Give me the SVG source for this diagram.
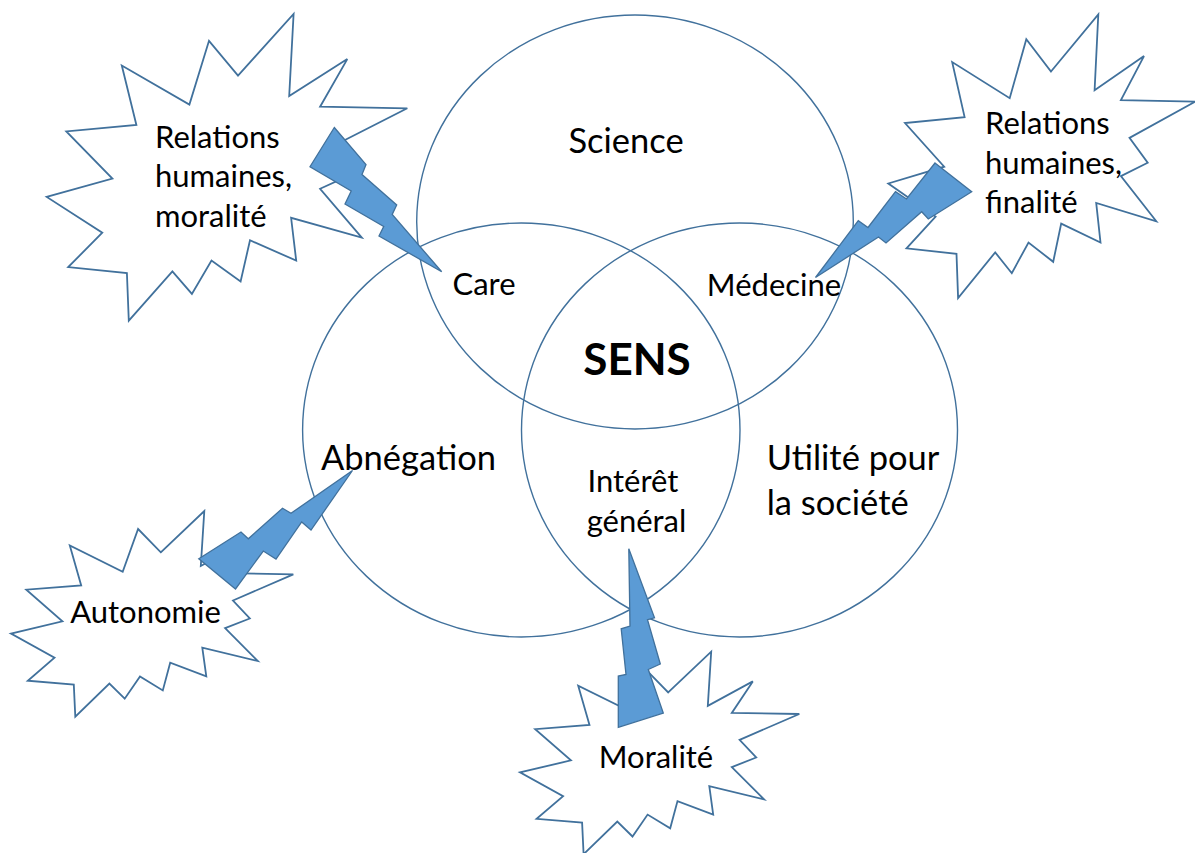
<svg xmlns="http://www.w3.org/2000/svg" width="1195" height="853" viewBox="0 0 1195 853">
<style>
.circ{fill:none;stroke:#41719C;stroke-width:1.4}
.burst{fill:#fff;stroke:#41719C;stroke-width:1.8;stroke-linejoin:miter}
.bolt{fill:#5B9BD5;stroke:#41719C;stroke-width:1.3;stroke-linejoin:miter}
text{font-family:Lato,"Open Sans","Liberation Sans",sans-serif;fill:#000}
.t32{font-size:31px}
.t37{font-size:34.5px}
.bold{font-size:44px;font-weight:bold}
</style>
<rect width="1195" height="853" fill="#fff"/>
<g id="circle-science"><ellipse class="circ" cx="635" cy="222" rx="218.3" ry="207"/></g>
<g id="circle-abnegation"><ellipse class="circ" cx="521.3" cy="430" rx="218.7" ry="207"/></g>
<g id="circle-utilite"><ellipse class="circ" cx="739.5" cy="430" rx="218" ry="207"/></g>
<g id="burst-relations-moralite"><polygon class="burst" points="238,75.6 293.6,14 289.2,96 347.3,59.1 320.1,106.7 407.3,108.3 330.2,147.5 351.7,174.3 320.1,188.8 361.8,237.7 291.1,217.8 296.2,260.6 250,240.3 240.6,281.5 211.5,260.6 191.9,293.9 172.4,271.4 128.8,320.7 126.9,273 68.2,267.1 102.3,232.7 46.7,196.9 112.4,178.6 66.3,131.4 136.4,125 121.8,65.5 189.4,104.6 209,40.8"/></g>
<g id="burst-relations-finalite"><polygon class="burst" points="1051,71.5 1098.3,14.5 1094.6,90.3 1144,56.1 1120.9,100.2 1195,101.7 1129.5,137.9 1147.7,162.7 1120.9,176.1 1156.3,221.3 1096.2,202.9 1100.5,242.5 1061.2,223.6 1053.2,261.8 1028.5,242.5 1011.8,273.2 995.2,252.4 958.1,298 956.5,253.9 906.5,248.4 935.6,216.6 888.3,183.5 944.2,166.7 905,123 964.6,117.1 952.2,62.1 1009.7,98.2 1026.3,39.3"/></g>
<g id="burst-autonomie"><polygon class="burst" points="160.8,552.3 204.3,511 200.8,566 246.3,541.2 225.1,573.2 293.3,574.3 233,600.5 249.8,618.5 225.1,628.2 257.7,661 202.3,647.7 206.3,676.4 170.2,662.7 162.8,690.4 140,676.4 124.7,698.7 109.4,683.6 75.3,716.7 73.8,684.7 27.8,680.7 54.5,657.7 11,633.6 62.4,621.4 26.3,589.7 81.2,585.4 69.8,545.5 122.7,571.7 138.1,529"/></g>
<g id="burst-moralite"><polygon class="burst" points="668.2,692.4 711.2,651.7 707.8,705.9 752.8,681.4 731.8,712.9 799.3,714 739.6,739.8 756.2,757.5 731.8,767.1 764.1,799.4 709.3,786.2 713.2,814.6 677.5,801.1 670.2,828.3 647.6,814.6 632.5,836.5 617.3,821.6 583.6,854.2 582.1,822.7 536.6,818.8 563.1,796.1 520,772.4 570.9,760.4 535.2,729.2 589.5,725 578.2,685.7 630.5,711.5 645.7,669.4"/></g>
<g id="connectors">
<polygon class="bolt" points="334.3,127.5 366,164.5 362,174.5 396.7,205 392.2,214.5 441.7,271.7 379,236 383.7,226.5 345,204 351.2,191 310,166.7"/>
<polygon class="bolt" points="935,163 971.7,191.7 928.3,219 921.7,211.7 886,243 878.5,237 815.5,277.5 858.3,220.7 868,227.5 895.5,191.7 906.5,199"/>
<polygon class="bolt" points="352.5,470.5 311,530 301.7,522 276,559 263.3,551 235.5,589 198.8,558.8 241,532 248.3,538.8 282.5,508.3 291,513.3"/>
<polygon class="bolt" points="628.8,548.8 654.5,617.8 647.5,619.7 660.3,664 648.3,669.5 663.3,713 618.3,727.3 618.3,676 626,674.5 621.2,628.8 630,626"/>
</g>
<g id="labels">
<text class="t37" x="626" y="153" text-anchor="middle">Science</text>
<text class="t32" x="484" y="295" text-anchor="middle">Care</text>
<text class="t32" x="774" y="296" text-anchor="middle">Médecine</text>
<text class="bold" x="637" y="375" text-anchor="middle">SENS</text>
<text class="t37" x="408.5" y="470" text-anchor="middle">Abnégation</text>
<text class="t32" x="633" y="491.7" text-anchor="middle">Intérêt</text>
<text class="t32" x="636.5" y="531.7" text-anchor="middle">général</text>
<text class="t37" x="766.7" y="470">Utilité pour</text>
<text class="t37" x="766.7" y="515">la société</text>
<text class="t32" x="155" y="147.7">Relations</text>
<text class="t32" x="155" y="186.7">humaines,</text>
<text class="t32" x="155" y="226.7">moralité</text>
<text class="t32" x="985" y="134">Relations</text>
<text class="t32" x="985" y="173.5">humaines,</text>
<text class="t32" x="985" y="213">finalité</text>
<text class="t32" x="145.5" y="623.3" text-anchor="middle">Autonomie</text>
<text class="t32" x="656" y="768.3" text-anchor="middle">Moralité</text>
</g>
</svg>
